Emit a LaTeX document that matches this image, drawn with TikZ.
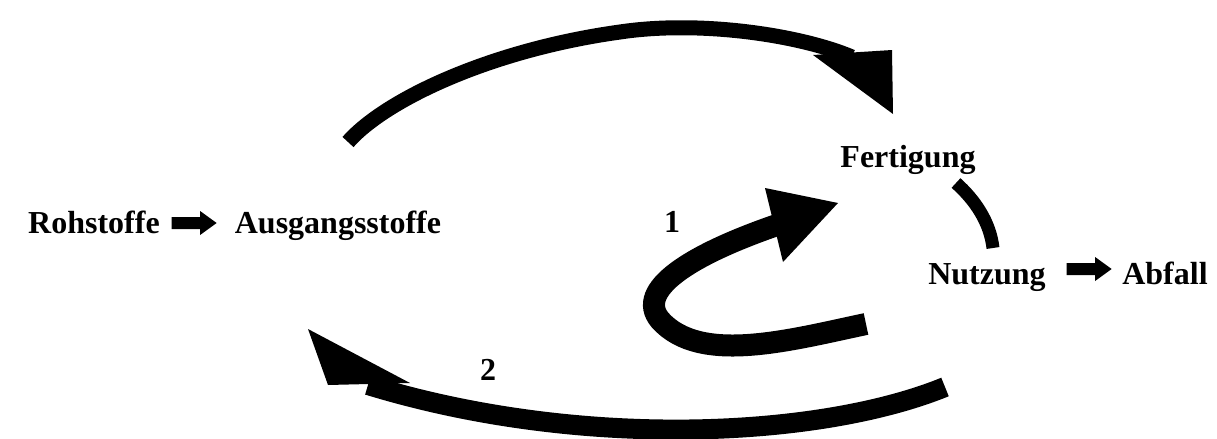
\documentclass[tikz,border=0pt]{standalone}
\usepackage{fontspec}
\setmainfont{Liberation Serif}
\usetikzlibrary{positioning,shapes.arrows}

\begin{document}
\begin{tikzpicture}[
    x=0.5pt, y=-0.5pt,
    every node/.style={
        font=\fontsize{16}{19}\selectfont\bfseries,
        inner sep=0pt,
        anchor=base
    },
    blockarr/.style={
        single arrow,
        fill=black,
        anchor=center,
        inner xsep=0pt,
        inner ysep=2.8pt,
        minimum height=22.5pt,
        single arrow head extend=3pt,
        single arrow tip angle=72
    },
    shaft/.style={
        draw=black,
        line cap=butt
    }
]
\useasboundingbox (0,0) rectangle (1217,439);

\node (roh) at (94,233) {Rohstoffe};
\node[blockarr] (ra1) at (190,223) {};
\node (aus) at (338,233) {Ausgangsstoffe};
\node (fert) at (908,167) {Fertigung};
\node (nutz) at (987,284) {Nutzung};
\node[blockarr] (ra2) at (1085,269) {};
\node (abf) at (1165,284) {Abfall};
\node (one) at (672,232) {1};
\node (two) at (488,380) {2};

% top arc
\coordinate (ts) at (348,142);
\coordinate (tm) at (620,32);
\coordinate (te) at (852,57);
\draw[shaft, line width=7.5pt] (ts) .. controls (385,100) and (490,50) .. (tm)
    .. controls (700,20) and (800,35) .. (te);
\fill (813,55) -- (892,50) -- (893,114) -- cycle;

% loop 1
\coordinate (ls) at (866,324);
\coordinate (lm) at (660,320);
\coordinate (le) at (777,225);
\draw[shaft, line width=11pt] (ls) .. controls (790,340) and (700,365) .. (lm)
    .. controls (635,290) and (690,255) .. (le);
\fill (765,188) -- (838,203) -- (783,262) -- cycle;

% bottom arc 2
\coordinate (bs) at (945,387);
\coordinate (be) at (368,385);
\draw[shaft, line width=10pt] (bs) .. controls (820,438) and (580,450) .. (be);
\fill (308,329) -- (410,383) -- (328,385) -- cycle;

% Fertigung - Nutzung
\coordinate (fs) at (956,183);
\coordinate (fe) at (993,248);
\draw[shaft, line width=6.5pt] (fs) .. controls (975,200) and (990,222) .. (fe);

\end{tikzpicture}
\end{document}
